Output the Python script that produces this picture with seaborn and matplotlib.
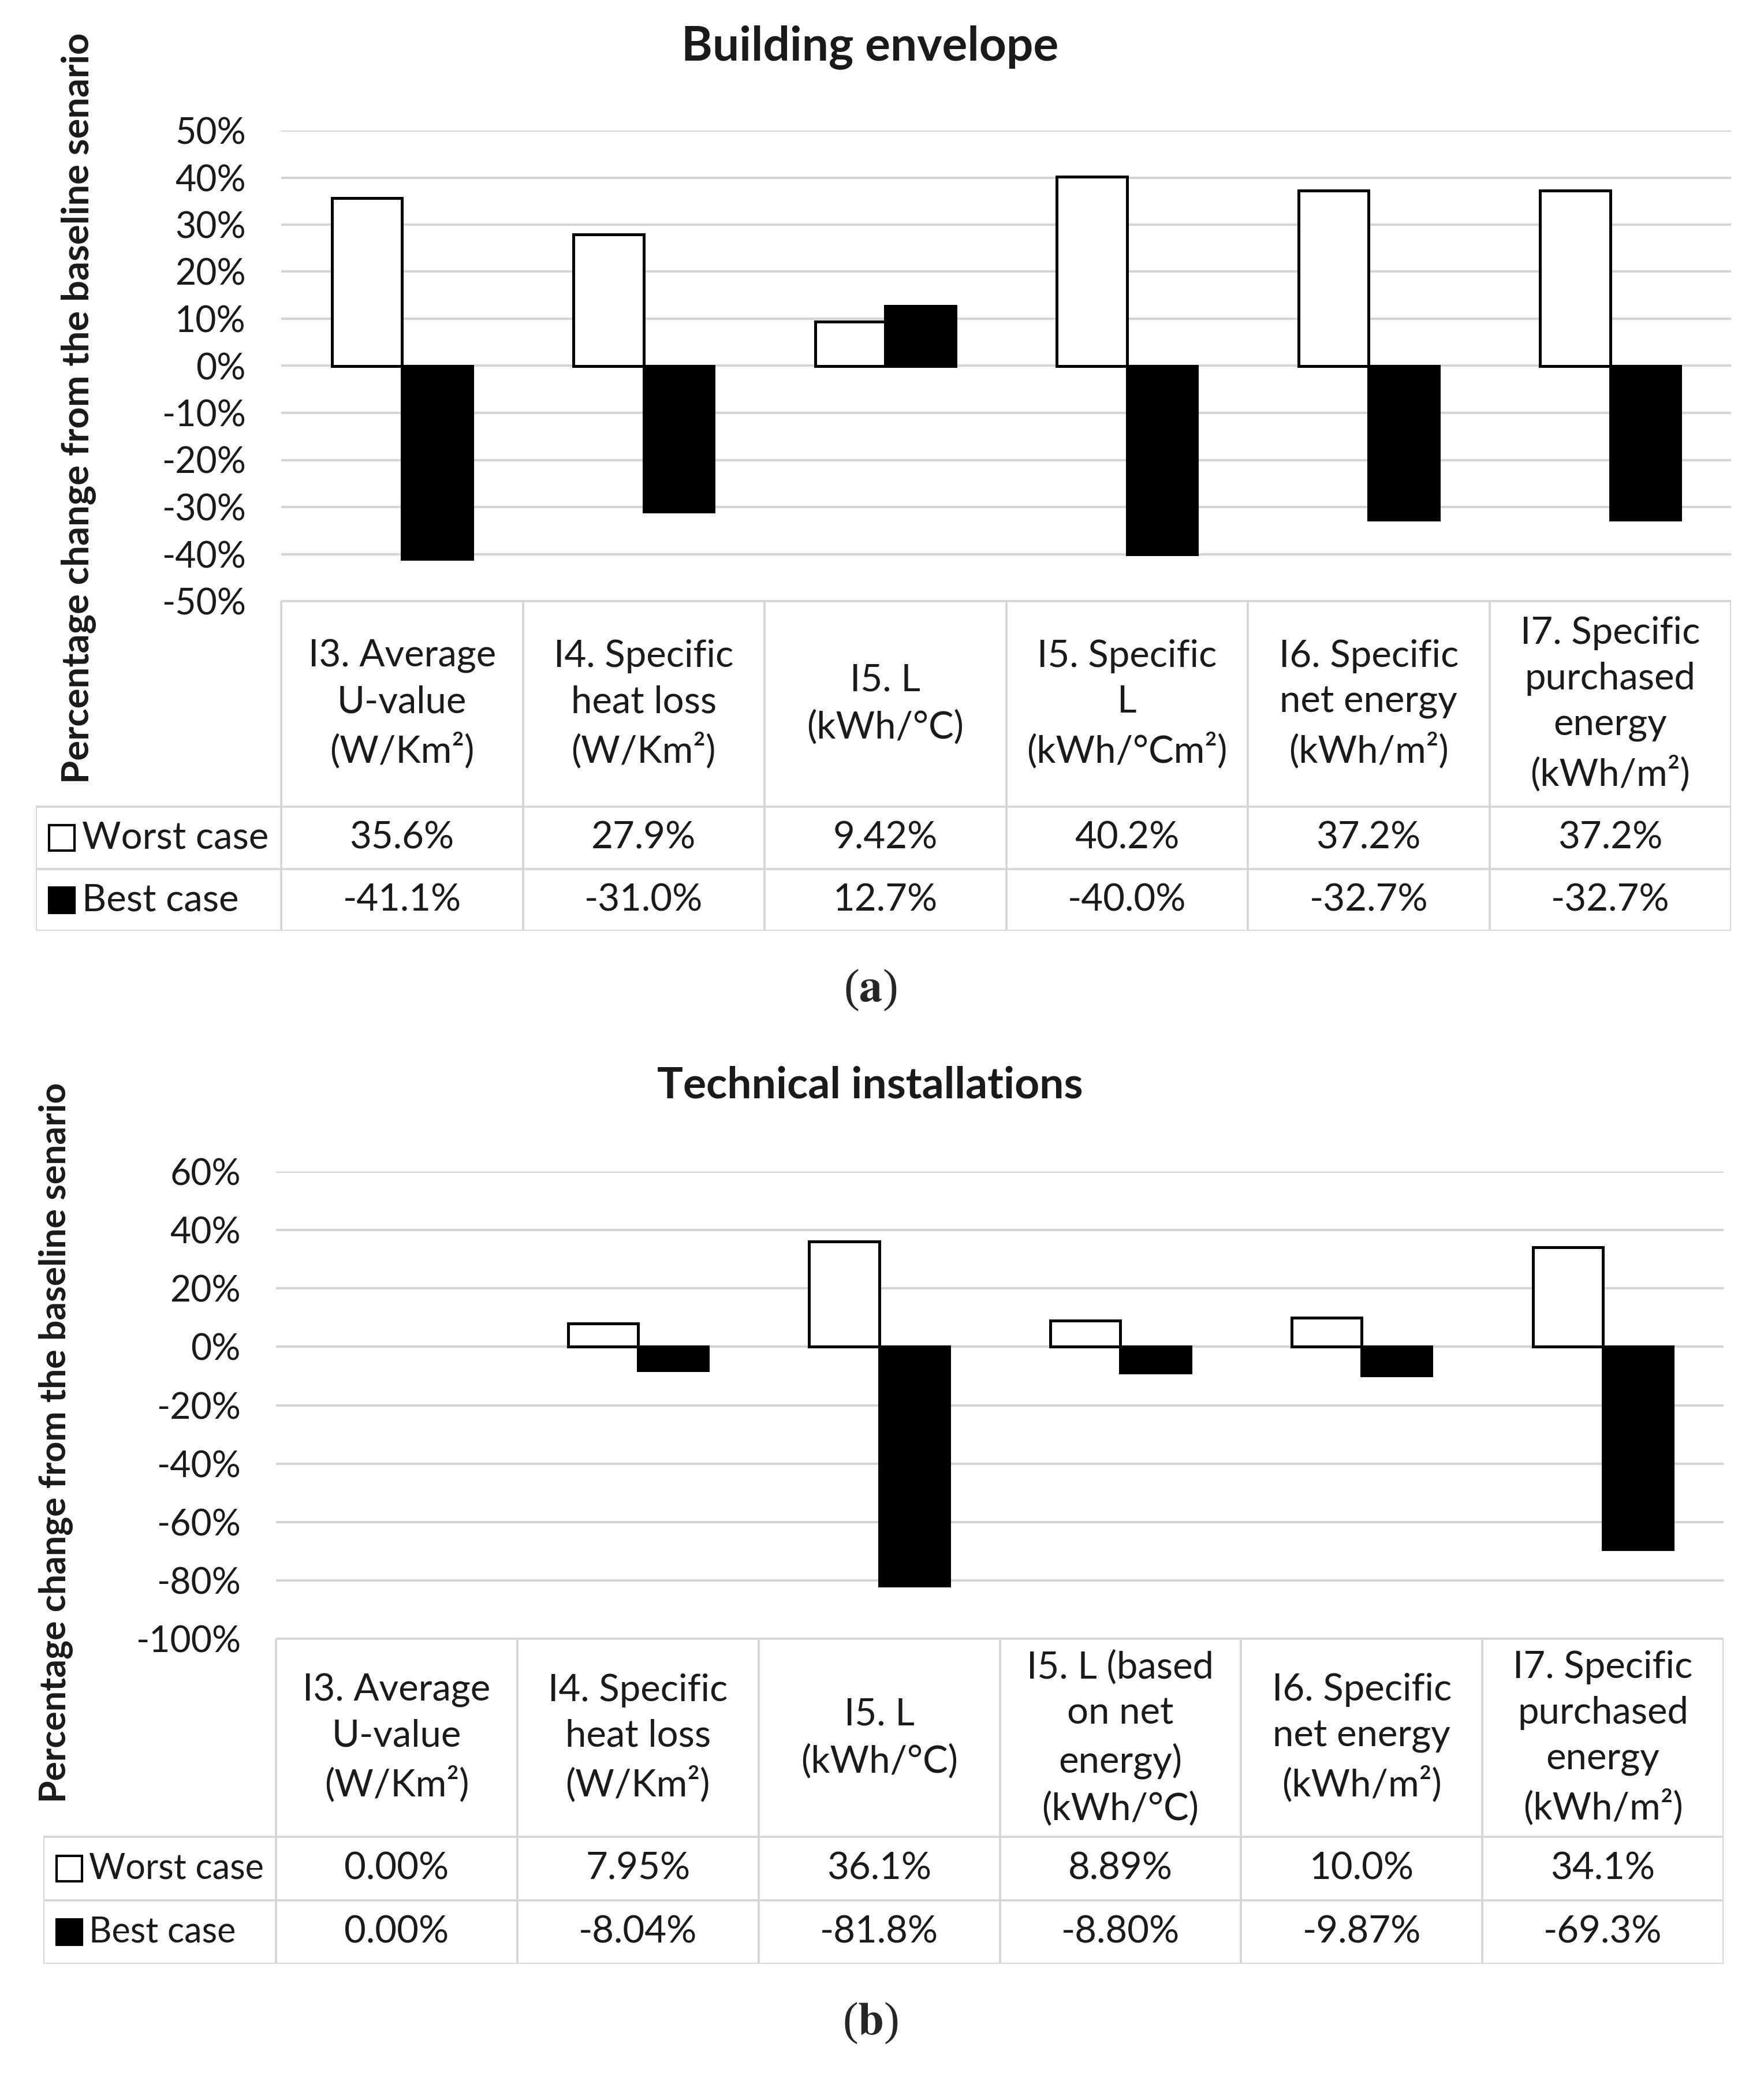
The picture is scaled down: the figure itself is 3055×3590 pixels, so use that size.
import pandas as pd
import matplotlib.pyplot as plt
import seaborn as sns
from matplotlib.patches import Rectangle
from matplotlib.ticker import PercentFormatter, MultipleLocator


# panel (a) - building envelope
env_labels = ['I3. Average\nU-value\n(W/Km²)', 'I4. Specific\nheat loss\n(W/Km²)',
              'I5. L\n(kWh/°C)', 'I5. Specific\nL\n(kWh/°Cm²)',
              'I6. Specific\nnet energy\n(kWh/m²)', 'I7. Specific\npurchased\nenergy\n(kWh/m²)']
env_worst = [0.356, 0.279, 0.0942, 0.402, 0.372, 0.372]
env_best = [-0.411, -0.310, 0.127, -0.400, -0.327, -0.327]
env_worst_txt = ['35.6%', '27.9%', '9.42%', '40.2%', '37.2%', '37.2%']
env_best_txt = ['-41.1%', '-31.0%', '12.7%', '-40.0%', '-32.7%', '-32.7%']

# panel (b) - technical installations
tech_labels = ['I3. Average\nU-value\n(W/Km²)', 'I4. Specific\nheat loss\n(W/Km²)',
               'I5. L\n(kWh/°C)', 'I5. L (based\non net\nenergy)\n(kWh/°C)',
               'I6. Specific\nnet energy\n(kWh/m²)', 'I7. Specific\npurchased\nenergy\n(kWh/m²)']
tech_worst = [0.0, 0.0795, 0.361, 0.0889, 0.100, 0.341]
tech_best = [0.0, -0.0804, -0.818, -0.0880, -0.0987, -0.693]
tech_worst_txt = ['0.00%', '7.95%', '36.1%', '8.89%', '10.0%', '34.1%']
tech_best_txt = ['0.00%', '-8.04%', '-81.8%', '-8.80%', '-9.87%', '-69.3%']

cases = ['Worst case', 'Best case']

sns.set_theme(style='white')
plt.rcParams['font.family'] = ['Lato', 'DejaVu Sans']
plt.rcParams['axes.unicode_minus'] = False
plt.rcParams['mathtext.fontset'] = 'stix'

W, H = 3055, 3590
fig = plt.figure(figsize=(W / 100, H / 100), dpi=100)

GRID = '#d4d4d4'
TXT = '#1a1a1a'


def box(l, t, r, b):
    return [l / W, 1 - b / H, (r - l) / W, (b - t) / H]


def panel(labels, worst, best, worst_txt, best_txt, ax_box, tab_box, rows,
          ylim, step, title, title_y, ylab_x, ylab_y, cap, cap_y,
          title_fs, ylab_fs, key_fs):
    df = pd.DataFrame({
        'ind': list(range(len(labels))) * 2,
        'case': [cases[0]] * len(worst) + [cases[1]] * len(best),
        'val': worst + best,
    })
    ax = fig.add_axes(box(*ax_box))
    sns.barplot(data=df, x='ind', y='val', hue='case', hue_order=cases,
                palette={'Worst case': 'white', 'Best case': 'black'},
                width=0.58, saturation=1, edgecolor='black', linewidth=3.6,
                legend=False, ax=ax, zorder=3)
    for p in ax.patches:
        if p.get_height() == 0:
            p.set_linewidth(0)
    ax.set_xlim(-0.5, len(labels) - 0.5)
    ax.set_ylim(*ylim)
    ax.yaxis.set_major_locator(MultipleLocator(step))
    ax.yaxis.set_major_formatter(PercentFormatter(1.0, decimals=0))
    ax.grid(axis='y', color=GRID, linewidth=3, zorder=0)
    ax.grid(axis='x', visible=False)
    ax.set_axisbelow(True)
    for s in ax.spines.values():
        s.set_visible(False)
    ax.set_xticklabels([])
    ax.set_xlabel('')
    ax.set_ylabel('')
    ax.tick_params(axis='y', length=0, pad=44, labelsize=45, colors=TXT)
    ax.tick_params(axis='x', length=0)

    # data table under the plot
    l, t, r, b = tab_box
    n = len(labels)
    cw = (r - ax_box[0]) / n
    left = -0.5 - (ax_box[0] - l) / cw
    tx = fig.add_axes(box(l, t, r, b))
    tx.set_xlim(left, n - 0.5)
    tx.set_ylim(rows[-1], 0)
    tx.axis('off')
    lw = 2.6
    tx.plot([-0.5, n - 0.5], [rows[0], rows[0]], color=GRID, lw=lw)
    for y in rows[1:]:
        tx.plot([left, n - 0.5], [y, y], color=GRID, lw=lw)
    for i in range(n + 1):
        tx.plot([i - 0.5, i - 0.5], [rows[0], rows[-1]], color=GRID, lw=lw)
    tx.plot([left, left], [rows[1], rows[-1]], color=GRID, lw=lw)
    for i, lab in enumerate(labels):
        tx.text(i, (rows[0] + rows[1]) / 2, lab, ha='center', va='center',
                fontsize=47, color=TXT, linespacing=1.42)
        tx.text(i, (rows[1] + rows[2]) / 2, worst_txt[i], ha='center',
                va='center', fontsize=47, color=TXT)
        tx.text(i, (rows[2] + rows[3]) / 2, best_txt[i], ha='center',
                va='center', fontsize=47, color=TXT)
    for k, (name, fc) in enumerate(zip(cases, ['white', 'black'])):
        yc = (rows[k + 1] + rows[k + 2]) / 2
        tx.add_patch(Rectangle((left + 0.055, yc - 22), 0.105, 44,
                               facecolor=fc, edgecolor='black', lw=3))
        tx.text(left + 0.19, yc, name, ha='left', va='center',
                fontsize=key_fs, color=TXT)

    fig.text(1507 / W, 1 - title_y / H, title, ha='center', va='center',
             fontsize=title_fs, fontweight='bold', color=TXT)
    fig.text(ylab_x / W, 1 - ylab_y / H,
             'Percentage change from the baseline senario', rotation=90,
             ha='center', va='center', fontsize=ylab_fs, fontweight='bold',
             color=TXT)
    fig.text(1507 / W, 1 - cap_y / H, '($\\mathbf{' + cap + '}$)',
             ha='center', va='center', fontsize=58, family='Liberation Serif')


panel(env_labels, env_worst, env_best, env_worst_txt, env_best_txt,
      (487, 226, 2998, 1041), (62, 1041, 2998, 1612), [0, 356, 464, 571],
      (-0.5, 0.5), 0.1, 'Building envelope', 82, 137, 707, 'a', 1715,
      59, 47, 47)

panel(tech_labels, tech_worst, tech_best, tech_worst_txt, tech_best_txt,
      (478, 2029, 2985, 2838), (75, 2838, 2985, 3401), [0, 343, 453, 563],
      (-1.0, 0.6), 0.2, 'Technical installations', 1880, 96, 2498, 'b', 3504,
      54, 45, 44)

fig.savefig('out.png', dpi=100, facecolor='white')
